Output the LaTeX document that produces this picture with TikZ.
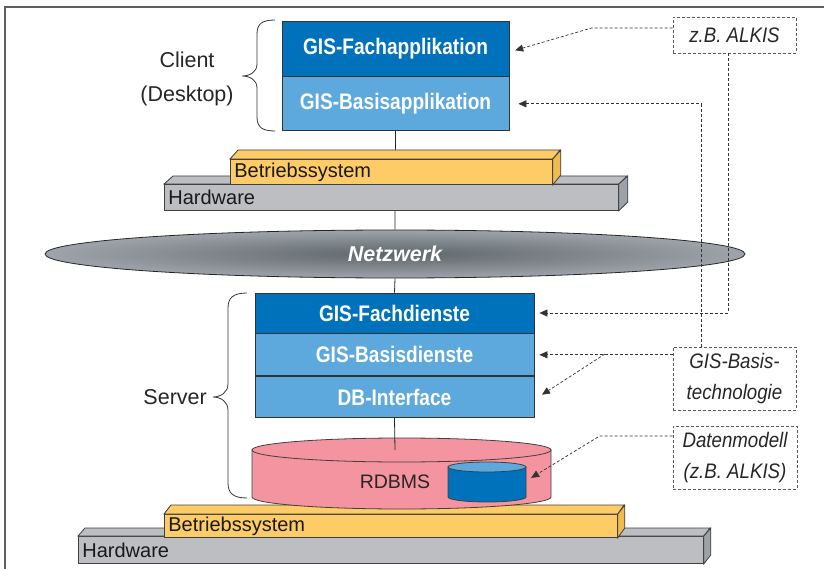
\documentclass[tikz,border=0pt]{standalone}
\usepackage{fontspec}
\setmainfont{Liberation Sans}
\newfontfamily\narrowfont{Liberation Sans}[FakeStretch=0.85]
\newfontfamily\notefont{Liberation Sans}[FakeStretch=0.89]
\usetikzlibrary{arrows.meta,shapes.geometric}
\usepackage{xcolor}

\definecolor{fachblue}{RGB}{0,113,187}
\definecolor{basisblue}{RGB}{93,169,221}
\definecolor{osyellow}{RGB}{254,204,102}
\definecolor{osside}{RGB}{240,186,80}
\definecolor{hwgray}{RGB}{188,190,193}
\definecolor{hwside}{RGB}{157,162,168}
\definecolor{dbpink}{RGB}{244,148,160}
\definecolor{netdark}{RGB}{94,102,106}
\definecolor{netlight}{RGB}{158,164,170}
\definecolor{framegray}{RGB}{95,95,95}

\tikzset{
  layer/.style={draw=black!80, line width=0.8pt, text=white, inner sep=0pt,
    font=\narrowfont\bfseries\fontsize{22.5}{25}\selectfont},
  slab/.style={draw=black!75, line width=0.8pt, anchor=north west, inner xsep=4pt,
    inner ysep=0pt, align=left, text=black!90, font=\fontsize{20}{22}\selectfont},
  note/.style={draw=black!65, line width=0.8pt, dash pattern=on 3pt off 2pt,
    inner sep=0pt, align=center, text=black!85,
    font=\notefont\itshape\fontsize{21}{31}\selectfont},
  annot/.style={draw=black!80, line width=0.7pt, dash pattern=on 3pt off 2pt,
    -{Triangle[length=8pt,width=7pt]}},
  facebox/.style={draw=black!75, line width=0.8pt},
  bracket/.style={draw=black!80, line width=0.8pt}
}

\begin{document}
\begin{tikzpicture}[x=1pt,y=-1pt]
  \useasboundingbox (0,0) rectangle (824,569);

  % Frame
  \draw[framegray, line width=1.6pt] (5,569) -- (5,7) -- (824,7);

  % Client stack
  \node[layer, fill=fachblue, minimum width=227pt, minimum height=55pt] (fach) at (395.5,48.5) {GIS-Fachapplikation};
  \node[layer, fill=basisblue, minimum width=227pt, minimum height=54pt, anchor=north] (bas) at (fach.south) {GIS-Basisapplikation};

  % Netzwerk
  \node[ellipse, draw=black!85, line width=0.8pt, inner color=netdark, outer color=netlight,
    minimum width=700pt, minimum height=48pt, text=white,
    font=\bfseries\itshape\fontsize{21.5}{24}\selectfont] (net) at (395,254) {Netzwerk};
  \draw[black!85, line width=0.8pt] (bas.south) -- (net.north);

  % Hardware (client)
  \node[slab, fill=hwgray, minimum width=454pt, minimum height=26pt, text width=446pt] (chw) at (164,184) {Hardware};
  \draw[facebox, fill=hwgray] (chw.north west) -- ++(9,-8) -- ++(454,0) -- (chw.north east) -- cycle;
  \draw[facebox, fill=hwside] (chw.north east) -- ++(9,-8) -- ++(0,26) -- (chw.south east) -- cycle;

  % Betriebssystem (client)
  \node[slab, fill=osyellow, minimum width=322pt, minimum height=25pt, text width=314pt] (cos) at (230,159) {Betriebssystem};
  \draw[facebox, fill=osyellow] (cos.north west) -- ++(8,-9) -- ++(322,0) -- (cos.north east) -- cycle;
  \draw[facebox, fill=osside] (cos.north east) -- ++(8,-9) -- ++(0,25) -- (cos.south east) -- cycle;

  % Server stack
  \node[layer, fill=fachblue, minimum width=279pt, minimum height=40pt] (fd) at (394.5,313) {GIS-Fachdienste};
  \node[layer, fill=basisblue, minimum width=279pt, minimum height=42pt, anchor=north] (bd) at (fd.south) {GIS-Basisdienste};
  \node[layer, fill=basisblue, minimum width=279pt, minimum height=41pt, anchor=north] (dbi) at (bd.south) {DB-Interface};
  \draw[black!85, line width=0.8pt] (net.south) -- (fd.north);

  % Hardware (server)
  \node[slab, fill=hwgray, minimum width=625pt, minimum height=27pt, text width=617pt] (shw) at (78,536) {Hardware};
  \draw[facebox, fill=hwgray] (shw.north west) -- ++(7,-8) -- ++(625,0) -- (shw.north east) -- cycle;
  \draw[facebox, fill=hwside] (shw.north east) -- ++(7,-8) -- ++(0,27) -- (shw.south east) -- cycle;

  % Betriebssystem (server)
  \node[slab, fill=osyellow, minimum width=453pt, minimum height=23pt, text width=445pt] (sos) at (164,514) {Betriebssystem};
  \draw[facebox, fill=osyellow] (sos.north west) -- ++(7,-9) -- ++(453,0) -- (sos.north east) -- cycle;
  \draw[facebox, fill=osside] (sos.north east) -- ++(7,-9) -- ++(0,23) -- (sos.south east) -- cycle;

  % RDBMS cylinder
  \draw[facebox, fill=dbpink] (252,450) -- (252,497) arc[start angle=180, end angle=0, x radius=149.5, y radius=12] -- (551,450) -- cycle;
  \draw[facebox, fill=dbpink] (401.5,450) ellipse [x radius=149.5, y radius=12];
  \node[text=black!85, font=\fontsize{19.5}{22}\selectfont] (rdbms) at (395,482) {RDBMS};
  \coordinate (dbtop) at (395,450);
  \draw[black!85, line width=0.8pt] (dbi.south) -- (dbtop);

  % Datenmodell cylinder
  \draw[facebox, fill=fachblue] (448,467) -- (448,497) arc[start angle=180, end angle=0, x radius=39, y radius=5] -- (526,467) -- cycle;
  \draw[facebox, fill=basisblue] (487,467) ellipse [x radius=39, y radius=5];
  \coordinate (dm) at (526,481);

  % Braces
  \draw[bracket] (275,20) .. controls (262,20) and (257,24) .. (257,34) -- (257,64)
    .. controls (257,72) and (250,76) .. (242,76) .. controls (250,76) and (257,80) .. (257,88)
    -- (257,117) .. controls (257,127) and (262,131) .. (275,131);
  \draw[bracket] (247,293) .. controls (233,293) and (228,298) .. (228,308) -- (228,384)
    .. controls (228,392) and (221,397) .. (213,397) .. controls (221,397) and (228,402) .. (228,410)
    -- (228,483) .. controls (228,493) and (233,498) .. (247,498);
  \node[align=center, text=black!85, font=\fontsize{21.5}{34}\selectfont] (client) at (187,79) {Client\\(Desktop)};
  \node[anchor=east, inner sep=0pt, text=black!85, font=\fontsize{21.5}{24}\selectfont] (server) at (207,397) {Server};

  % Notes
  \node[note, minimum width=123pt, minimum height=36pt] (alkis) at (734.5,35) {z.B. ALKIS};
  \node[note, minimum width=123pt, minimum height=63pt] (tech) at (734.5,378.5) {GIS-Basis-\\technologie};
  \node[note, minimum width=124pt, minimum height=63pt] (daten) at (735,457.5) {Datenmodell\\(z.B. ALKIS)};

  % Note connectors
  \draw[annot, shorten >=6pt] ([yshift=7pt]alkis.west) -- ++(-81,0) -- ([yshift=-3.5pt]fach.east);
  \draw[annot, shorten >=5pt] ([xshift=-6.5pt]alkis.south) |- (fd.east);
  \draw[annot, shorten >=9pt] ([xshift=-33.5pt]tech.north) |- (bas.east);
  \draw[annot, shorten >=5pt] (tech.west |- bd.east) -- (bd.east);
  \coordinate (techfork) at (605,354);
  \draw[annot, shorten >=9pt] (techfork) -- ([yshift=-2.5pt]dbi.east);
  \draw[annot, shorten >=6pt] ([yshift=21.5pt]daten.west) -- ++(-73,0) -- (dm);

\end{tikzpicture}
\end{document}
